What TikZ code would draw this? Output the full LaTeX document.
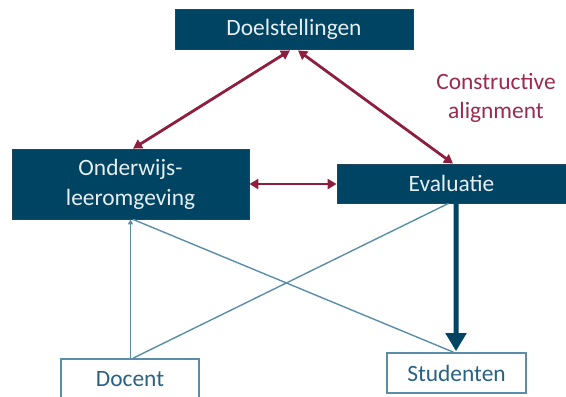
\documentclass[tikz,border=0pt]{standalone}
\usepackage{fontspec}
\setmainfont{Carlito}
\usetikzlibrary{arrows.meta,calc}
\definecolor{navy}{HTML}{004463}
\definecolor{navyedge}{HTML}{23455C}
\definecolor{wine}{HTML}{8E1E3E}
\definecolor{winetext}{HTML}{9A2A4E}
\definecolor{steel}{HTML}{5A8EA8}
\definecolor{steeltext}{HTML}{2A6282}
\definecolor{boxtext}{HTML}{E6EEF2}
\begin{document}
\begin{tikzpicture}[x=1bp,y=-1bp,
  darkbox/.style={draw=navyedge,line width=0.8bp,fill=navy,text=boxtext,
    font=\fontsize{23.5}{30}\selectfont,align=center,inner sep=0pt},
  lightbox/.style={draw=steel,line width=1.6bp,fill=white,text=steeltext,
    font=\fontsize{23.5}{30}\selectfont,align=center,inner sep=0pt},
  redarrow/.style={wine,line width=2.8bp,
    {Triangle[length=9bp,width=10bp]}-{Triangle[length=9bp,width=10bp]}},
  thinline/.style={steel,line width=1.4bp},
  bigarrow/.style={navy,line width=5bp,-{Triangle[length=18bp,width=20bp]}}]
\useasboundingbox (0,0) rectangle (566,396);
\node[darkbox,minimum width=238bp,minimum height=40bp] (doel) at (294,29) {Doelstellingen};
\node[darkbox,minimum width=237bp,minimum height=70bp] (onder) at (130.5,184) {Onderwijs-\\leeromgeving};
\node[darkbox,minimum width=229bp,minimum height=39bp] (eval) at (451.5,183.5) {Evaluatie};
\node[lightbox,minimum width=138bp,minimum height=40bp] (docent) at (130,379) {Docent};
\node[lightbox,minimum width=139bp,minimum height=40bp] (stud) at (456.5,373) {Studenten};
\node[text=winetext,font=\fontsize{23.5}{29}\selectfont,align=center] (ca) at (496,98) {Constructive\\alignment};
% coordinates on box edges
\coordinate (dL) at ($(doel.south)+(-4,1)$);
\coordinate (dR) at ($(doel.south)+(4,1)$);
\coordinate (oT) at ($(onder.north)+(2.5,0)$);
\coordinate (eT) at ($(eval.north)+(1.5,0)$);
\coordinate (oB) at ($(onder.south)+(0,0)$);
\coordinate (oB2) at ($(onder.south)+(2.5,0)$);
\coordinate (eB) at ($(eval.south)+(-3,0)$);
\coordinate (eB2) at ($(eval.south)+(4.5,0)$);
\coordinate (dT) at (docent.north -| oB);
\coordinate (dT2) at ($(docent.north)+(3,0)$);
\coordinate (sT) at ($(stud.north)+(-3,0)$);
\coordinate (sT2) at ($(stud.north)+(-0.5,-1)$);
% red alignment arrows
\draw[redarrow] (dL) -- (oT);
\draw[redarrow] (dR) -- (eT);
\draw[redarrow] (onder.east) -- (eval.west |- onder.east);
% thin connectors
\draw[thinline,-{Triangle[length=5bp,width=5bp]}] (dT) -- (oB);
\draw[thinline] (oB2) -- (sT);
\draw[thinline] (eB) -- (dT2);
% thick arrow
\draw[bigarrow] (eB2) -- (sT2);
\end{tikzpicture}
\end{document}
